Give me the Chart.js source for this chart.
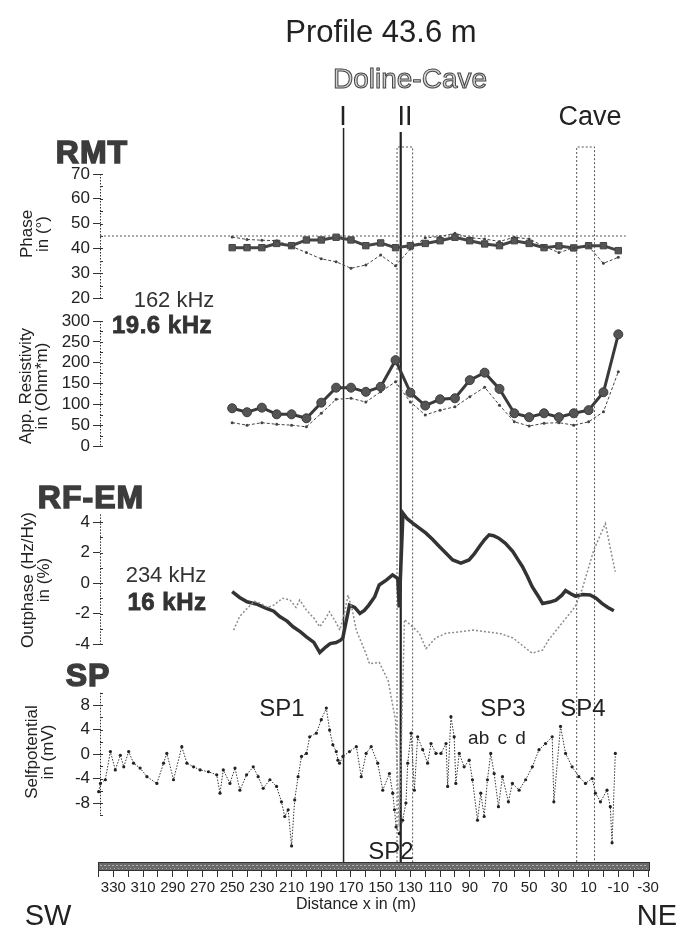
<!DOCTYPE html>
<html>
<head>
<meta charset="utf-8">
<script src="https://cdn.jsdelivr.net/npm/chart.js@4/dist/chart.umd.min.js"></script>
<style>
  body { margin: 0; background: #fff; }
  #wrap { position: relative; width: 678px; height: 936px; font-family: "Liberation Sans", Arial, sans-serif; color: #222; }
  #c { position: absolute; left: 0; top: 0; }
  .t { position: absolute; transform: translate(-50%, -50%); white-space: nowrap; line-height: 1; }
  .big { font-weight: bold; font-size: 32px; color: #3c3c3c; -webkit-text-stroke: 1.5px #3c3c3c; letter-spacing: 1px; }
  .ax { position: absolute; transform: translate(-50%, -50%) rotate(-90deg); text-align: center; white-space: nowrap; font-size: 17px; line-height: 16px; }
</style>
</head>
<body>
<div id="wrap">
  <canvas id="c" width="678" height="936"></canvas>

  <div class="t" style="left:381px;top:31px;font-size:31px">Profile 43.6 m</div>
  <div class="t" style="left:410px;top:79px;font-size:28px;color:#d4d4d4;-webkit-text-stroke:1px #444">Doline-Cave</div>
  <div class="t" style="left:343px;top:116px;font-size:27px">I</div>
  <div class="t" style="left:405px;top:116px;font-size:27px">II</div>
  <div class="t" style="left:590px;top:116px;font-size:27px">Cave</div>

  <div class="t big" style="left:92px;top:152px">RMT</div>
  <div class="t big" style="left:91px;top:497px">RF-EM</div>
  <div class="t big" style="left:88px;top:675px">SP</div>

  <div class="t" style="left:174px;top:300px;font-size:22px;color:#333">162 kHz</div>
  <div class="t" style="left:162px;top:325px;font-size:24px;font-weight:bold;color:#333;-webkit-text-stroke:0.8px #333;letter-spacing:0.5px">19.6 kHz</div>
  <div class="t" style="left:166px;top:575px;font-size:22px;color:#333">234 kHz</div>
  <div class="t" style="left:167px;top:602px;font-size:24px;font-weight:bold;color:#333;-webkit-text-stroke:0.8px #333;letter-spacing:0.5px">16 kHz</div>

  <div class="ax" style="left:35px;top:234px">Phase<br>in (°)</div>
  <div class="ax" style="left:34px;top:386px">App. Resistivity<br>in (Ohm*m)</div>
  <div class="ax" style="left:36px;top:580px">Outphase (Hz/Hy)<br>in (%)</div>
  <div class="ax" style="left:40px;top:752px">Selfpotential<br>in (mV)</div>

  <div class="t" style="left:282px;top:708px;font-size:24px">SP1</div>
  <div class="t" style="left:391px;top:851px;font-size:24px">SP2</div>
  <div class="t" style="left:503px;top:708px;font-size:24px">SP3</div>
  <div class="t" style="left:497px;top:737px;font-size:19px;word-spacing:3px">ab c d</div>
  <div class="t" style="left:583px;top:708px;font-size:24px">SP4</div>

  <div class="t" style="left:356px;top:904px;font-size:16px">Distance x in (m)</div>
  <div class="t" style="left:48px;top:915px;font-size:29px">SW</div>
  <div class="t" style="left:657px;top:915px;font-size:29px">NE</div>
</div>

<script>
// RMT stations (every 10 m)
const rmtX = [250, 240, 230, 220, 210, 200, 190, 180, 170, 160, 150, 140, 130, 120, 110, 100, 90, 80, 70, 60, 50, 40, 30, 20, 10, 0, -10];
const phase196 = [40.3, 40.3, 40.3, 42.0, 41.1, 43.4, 43.4, 44.5, 43.4, 41.1, 42.2, 40.3, 41.1, 42.0, 43.1, 44.5, 43.1, 41.8, 41.1, 43.1, 42.0, 40.3, 41.0, 40.2, 41.1, 41.1, 39.1];
const phase162 = [44.6, 43.6, 43.3, 43.1, 40.8, 38.3, 35.8, 34.6, 32.0, 33.3, 37.3, 33.0, 39.8, 44.3, 44.8, 46.1, 44.3, 43.8, 42.8, 44.5, 43.8, 40.8, 38.3, 40.2, 40.8, 34.0, 36.4];
const res196 = [90.5, 81, 92, 76, 76, 66.5, 104, 140, 140, 130, 142, 206, 128, 97, 112, 114.5, 158, 176, 137, 78.5, 69, 78.5, 69, 78.5, 86, 129, 268];
const res162 = [56, 50, 56, 52, 50, 46, 78.5, 112, 114.5, 105.5, 130, 154, 105.5, 74.5, 86, 94, 118, 141, 98, 58, 48, 54.5, 56, 50, 58, 82, 178];
const phaseRefX = [339, -15];
const phaseRefY = [45, 45];

// RF-EM outphase
const of16X = [250, 245, 240, 233, 227, 222, 218, 213, 209, 204, 200, 195, 191, 187, 184, 180, 177, 175.5, 171, 167.5, 164, 161, 158, 154, 151, 146, 142, 138.5, 137.5, 135, 132, 128.5, 124, 119.5, 115, 110.5, 106, 101.5, 96, 90.5, 87, 83.5, 80, 77, 74, 70.5, 66, 61, 58, 54.5, 51, 48, 44, 41, 36, 32, 28, 25.5, 22, 19, 14, 9, 5, 1, -3, -7];
const of16Y = [-0.57, -0.95, -1.23, -1.4, -1.67, -1.85, -2.2, -2.5, -2.87, -3.2, -3.53, -3.9, -4.56, -4.2, -3.97, -3.9, -3.75, -3.6, -1.45, -1.6, -2.0, -1.8, -1.45, -0.9, -0.13, 0.2, 0.53, 0.3, -1.6, 4.58, 4.2, 3.93, 3.6, 3.27, 2.85, 2.39, 1.95, 1.51, 1.3, 1.51, 1.9, 2.39, 2.85, 3.16, 3.1, 2.94, 2.6, 2.06, 1.6, 1.07, 0.4, -0.24, -0.85, -1.34, -1.25, -1.12, -0.8, -0.5, -0.7, -0.86, -0.75, -0.79, -1.0, -1.34, -1.6, -1.82];
const of234X = [249, 245, 240, 235, 231, 226, 222, 216, 211, 207, 204.5, 200, 195, 191, 187, 184.5, 180, 177.5, 174, 172, 169, 166.5, 163, 160, 157.5, 151, 145, 140, 137.5, 134, 128.5, 124, 119.5, 113, 106, 97, 88, 79, 70, 61, 52, 48, 41, 37, 28, 19, 14.5, 6.5, -1.3, -5.8, -8];
const of234Y = [-3.09, -2.2, -1.67, -1.2, -1.34, -1.6, -1.45, -1.0, -1.12, -1.6, -1.12, -1.78, -2.3, -2.87, -2.3, -1.89, -2.6, -3.09, -1.8, -0.79, -1.8, -3.09, -3.9, -4.6, -5.3, -5.2, -6.4, -9.0, -16, -2.4, -2.87, -3.3, -4.3, -3.6, -3.3, -3.2, -3.09, -3.2, -3.3, -3.6, -4.3, -4.6, -4.4, -3.74, -2.64, -1.55, -0.46, 2.16, 3.9, 1.72, 0.74];

// Selfpotential
const spX = [339.9, 338.7, 335.4, 332, 328.7, 325.3, 323, 319.7, 316.4, 312, 307.4, 300.7, 296.2, 294, 289.5, 283.9, 280.5, 276, 271.6, 266,
  260.4, 258.2, 256, 251.5, 248.1, 244.8, 240.3, 235.8, 232.5, 229.1, 224.6, 220.1, 216.8, 214.6, 212.3, 210, 207.9, 205.6, 203.3, 200,
  197.8, 193.3, 190, 186.6, 184.4, 182.2, 179.9, 178.8, 177.7, 175.4, 171, 166.4, 163.1, 159.8, 156.4, 152, 148.6, 144.1, 141.9, 140.7,
  139.6, 137.4, 135.2, 133, 131.8, 129.5, 127.3, 125.1, 121.7, 118.4, 116.1, 112.8, 109.4, 106, 104.9, 102.7, 100.5, 99.4, 97.1, 93.8,
  90.4, 88.2, 84.8, 82.6, 80.3, 78.1, 75.9, 73.6, 70.7, 68, 64, 61.3, 56.8, 52.4, 47.9, 43.4, 39, 34.5, 33.4, 28.9,
  25.5, 21.1, 16.6, 12.1, 7.6, 5.4, 2.0, -2.4, -4.6, -5.8, -8.0];
const spY = [-6.15, -4.8, -4.2, 0.4, -2.6, -0.2, -2.1, 0.4, -1.5, -2.3, -3.7, -4.8, -1.5, 0.1, -4.2, 1.2, -1.5, -2.1, -2.6, -2.9,
  -3.4, -6.4, -2.6, -4.8, -2.3, -5.9, -3.4, -2.1, -3.7, -5.6, -4.2, -5.3, -7.8, -10.2, -9.1, -15, -7.5, -3.7, -0.4, 0.1,
  2.8, 3.4, 5.6, 7.5, 3.9, 1.5, 0.4, -1.0, -1.5, -0.4, 0.4, 1.2, -3.7, 0.1, 1.2, -1.5, -5.9, -3.2, -6.4, -9.1,
  -11.9, -13, -10.8, -8, -1.5, 3.4, -5.9, 2.8, 0.7, -1.5, 1.7, 0.1, 0.1, 1.7, -5.3, 6.1, 2.8, -4.8, 0.1, -2.1,
  -1.0, -4.2, -10.8, -6.4, -10.2, -4.2, 0.1, -3.2, -8.6, -3.7, -7.8, -4.8, -5.9, -4.2, -2.1, 0.7, 1.7, 2.8, -7.8, 4.5,
  0.1, -2.1, -3.7, -4.8, -4.0, -6.4, -7.8, -5.9, -8.6, -14.5, 0.1];

// axis ticks
const xTickLabels = [330, 310, 290, 270, 250, 230, 210, 190, 170, 150, 130, 110, 90, 70, 50, 30, 10, -10, -30];
const phaseTicks = [20, 30, 40, 50, 60, 70];
const resTicks = [0, 50, 100, 150, 200, 250, 300];
const outTicks = [-4, -2, 0, 2, 4];
const spTicks = [-8, -4, 0, 4, 8];

// marker lines (I, II) and dotted zones (Doline, Cave), in metres
const markerLines = [175, 136.5];
const zones = [[139, 128.5], [18, 6]];

// ---- layout ----
const TOP = 105, BOTTOM = 862;
const FONT = '"Liberation Sans", Arial, sans-serif';

function pts(xs, ys) {
  return xs.map((x, i) => ({ x: x, y: ys[i] }));
}

// value range so that vTop sits at pixel pTop and vBot at pBot
function panelRange(vTop, pTop, vBot, pBot) {
  const k = (pBot - pTop) / (vTop - vBot);
  return { max: vTop + (pTop - TOP) / k, min: vBot - (BOTTOM - pBot) / k };
}

function yAxis(ticks, range) {
  return {
    type: 'linear',
    position: 'left',
    bounds: 'data',
    min: range.min,
    max: range.max,
    afterFit: s => { s.width = 0; },
    afterBuildTicks: s => { s.ticks = ticks.map(v => ({ value: v })); },
    grid: { drawOnChartArea: false, tickLength: 7, color: '#333' },
    border: { display: false },
    ticks: { autoSkip: false, padding: 3, color: '#222', font: { family: FONT, size: 17 } }
  };
}

// axis line segments + minor ticks per panel
const panels = [
  { id: 'yPh', top: 70, bottom: 20, minor: 5 },
  { id: 'yRes', top: 300, bottom: 0, minor: 25 },
  { id: 'yOut', top: 4.5, bottom: -4, minor: 1 },
  { id: 'ySp', top: 10, bottom: -10, minor: 2 }
];

const overlay = {
  id: 'overlay',
  afterLayout(chart) {
    // the y axes all sit on the plot edge with zero width; open their label area to the left
    panels.forEach(p => { chart.scales[p.id].left = 0; });
  },
  beforeDatasetsDraw(chart) {
    const ctx = chart.ctx;
    const xs = chart.scales.x;
    const area = chart.chartArea;
    ctx.save();

    // axis lines
    ctx.strokeStyle = '#333';
    ctx.lineWidth = 1;
    panels.forEach(p => {
      const s = chart.scales[p.id];
      ctx.setLineDash([1.5, 1.5]);
      ctx.beginPath();
      ctx.moveTo(area.left + 0.5, s.getPixelForValue(p.top));
      ctx.lineTo(area.left + 0.5, s.getPixelForValue(p.bottom));
      ctx.stroke();
      ctx.setLineDash([]);
      ctx.beginPath();
      for (let v = p.bottom; v <= p.top + 1e-9; v += p.minor) {
        const y = Math.round(s.getPixelForValue(v)) + 0.5;
        ctx.moveTo(area.left, y);
        ctx.lineTo(area.left + 3, y);
      }
      ctx.stroke();
    });

    // I and II lines
    ctx.strokeStyle = '#222';
    markerLines.forEach((m, i) => {
      const x = xs.getPixelForValue(m);
      ctx.lineWidth = i === 0 ? 1.5 : 2.2;
      ctx.beginPath();
      ctx.moveTo(x, i === 0 ? 128 : 132);
      ctx.lineTo(x, area.bottom);
      ctx.stroke();
    });

    // dotted zones
    ctx.strokeStyle = '#555';
    ctx.lineWidth = 1;
    ctx.setLineDash([2, 2]);
    zones.forEach(z => {
      const x1 = xs.getPixelForValue(z[0]);
      const x2 = xs.getPixelForValue(z[1]);
      ctx.beginPath();
      ctx.moveTo(x1, area.bottom);
      ctx.lineTo(x1, 147);
      ctx.lineTo(x2, 147);
      ctx.lineTo(x2, area.bottom);
      ctx.stroke();
    });
    ctx.restore();
  },
  afterDraw(chart) {
    // hatched distance bar
    const ctx = chart.ctx;
    const area = chart.chartArea;
    ctx.save();
    ctx.fillStyle = '#6a6a6a';
    ctx.fillRect(area.left - 2, area.bottom, area.right - area.left + 4, 9);
    ctx.fillStyle = '#b0b0b0';
    for (let x = area.left; x < area.right; x += 4) {
      ctx.fillRect(x, area.bottom + 3, 2, 1);
      ctx.fillRect(x + 2, area.bottom + 6, 1, 1);
    }
    ctx.strokeStyle = '#333';
    ctx.lineWidth = 1;
    ctx.strokeRect(area.left - 1.5, area.bottom + 0.5, area.right - area.left + 3, 8);
    ctx.restore();
  }
};

const xTicksAll = [];
xTickLabels.forEach(v => { xTicksAll.push(v + 10); xTicksAll.push(v); });

new Chart(document.getElementById('c'), {
  type: 'line',
  data: {
    datasets: [
      {
        data: pts(phaseRefX, phaseRefY), yAxisID: 'yPh',
        borderColor: '#555', borderWidth: 1, borderDash: [2, 2], pointRadius: 0
      },
      {
        data: pts(rmtX, phase162), yAxisID: 'yPh',
        borderColor: '#444', borderWidth: 1, borderDash: [3, 2],
        pointRadius: 1.5, pointBackgroundColor: '#444', pointBorderWidth: 0
      },
      {
        data: pts(rmtX, phase196), yAxisID: 'yPh',
        borderColor: '#444', borderWidth: 3,
        pointStyle: 'rect', pointRadius: 4.5, pointBackgroundColor: '#555', pointBorderColor: '#444', pointBorderWidth: 1
      },
      {
        data: pts(rmtX, res162), yAxisID: 'yRes',
        borderColor: '#444', borderWidth: 1, borderDash: [3, 2],
        pointRadius: 1.5, pointBackgroundColor: '#444', pointBorderWidth: 0
      },
      {
        data: pts(rmtX, res196), yAxisID: 'yRes',
        borderColor: '#3a3a3a', borderWidth: 3,
        pointRadius: 4.5, pointBackgroundColor: '#555', pointBorderColor: '#3a3a3a', pointBorderWidth: 1
      },
      {
        data: pts(of234X, of234Y), yAxisID: 'yOut', clip: false,
        borderColor: '#8c8c8c', borderWidth: 1.5, borderDash: [2, 2], pointRadius: 0
      },
      {
        data: pts(of16X, of16Y), yAxisID: 'yOut', clip: false,
        borderColor: '#333', borderWidth: 3.5, pointRadius: 0
      },
      {
        data: pts(spX, spY), yAxisID: 'ySp', clip: false,
        borderColor: '#333', borderWidth: 1, borderDash: [1.5, 1.5],
        pointRadius: 1.6, pointBackgroundColor: '#222', pointBorderWidth: 0
      }
    ]
  },
  options: {
    responsive: false,
    animation: false,
    devicePixelRatio: 1,
    layout: { padding: { top: TOP, left: 100, right: 30, bottom: 40 } },
    plugins: { legend: { display: false }, tooltip: { enabled: false } },
    scales: {
      x: {
        type: 'linear',
        reverse: true,
        bounds: 'data',
        min: -30,
        max: 339,
        afterFit: s => { s.height = 34; },
        afterBuildTicks: s => { s.ticks = xTicksAll.map(v => ({ value: v })); },
        grid: { drawOnChartArea: false, tickLength: 15, color: '#333' },
        border: { display: false },
        ticks: {
          autoSkip: false, maxRotation: 0, minRotation: 0, padding: 2, color: '#222',
          font: { family: FONT, size: 15 },
          callback: v => xTickLabels.includes(v) ? String(v) : ''
        }
      },
      yPh: yAxis(phaseTicks, panelRange(70, 174, 20, 298)),
      yRes: yAxis(resTicks, panelRange(300, 321, 0, 446)),
      yOut: yAxis(outTicks, panelRange(4, 522, -4, 644)),
      ySp: yAxis(spTicks, panelRange(8, 705, -8, 803))
    }
  },
  plugins: [overlay]
});
</script>
</body>
</html>
